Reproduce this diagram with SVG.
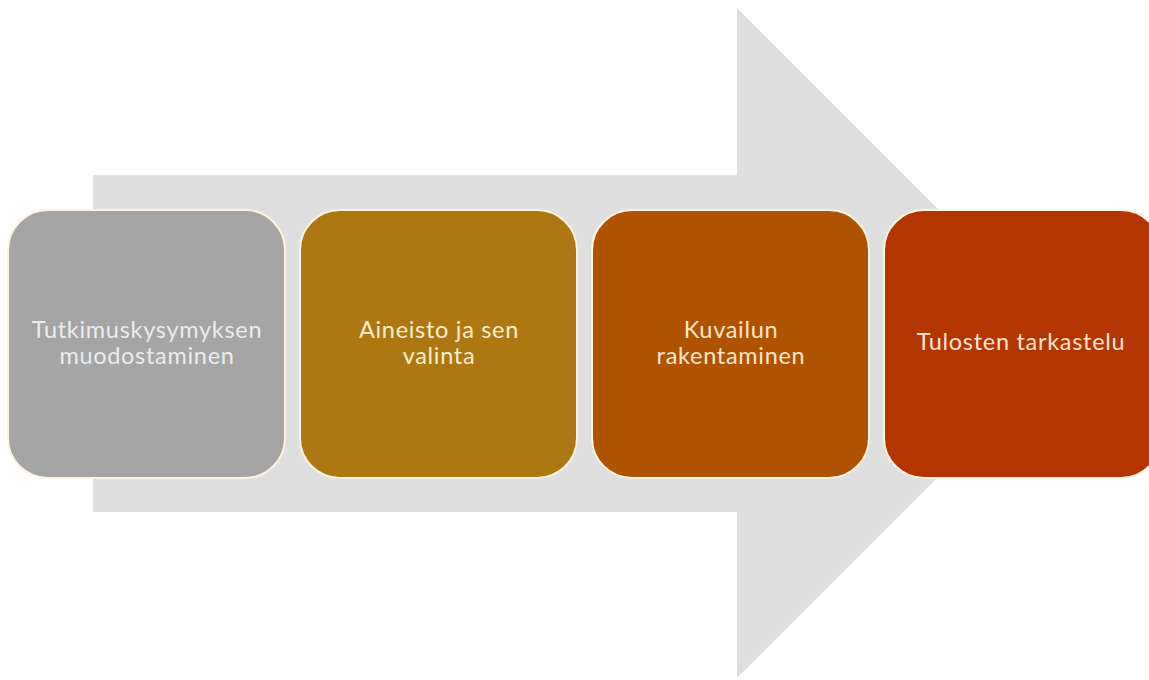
<svg xmlns="http://www.w3.org/2000/svg" width="1149" height="680" viewBox="0 0 1149 680">
<style>
.box{stroke:#fdf3e0;stroke-width:2}
.lbl{font-family:Lato,"Liberation Sans",sans-serif;font-size:23.5px;letter-spacing:0.7px;text-anchor:middle}
</style>
<rect width="1149" height="680" fill="#ffffff"/>
<g id="arrow">
<polygon points="93,175 737,175 737,8 1072,343 737,678 737,512 93,512" fill="#dfdfdf"/>
</g>
<g id="connectors"></g>
<g id="node1">
<rect class="box" x="8" y="210" width="277" height="268" rx="40" fill="#a5a5a5"/>
<text class="lbl" x="147" y="338" fill="#ececec">Tutkimuskysymyksen</text>
<text class="lbl" x="147" y="364" fill="#ececec">muodostaminen</text>
</g>
<g id="node2">
<rect class="box" x="300" y="210" width="277" height="268" rx="40" fill="#ad7811"/>
<text class="lbl" x="439" y="338" fill="#ffeecc">Aineisto ja sen</text>
<text class="lbl" x="439" y="364" fill="#ffeecc">valinta</text>
</g>
<g id="node3">
<rect class="box" x="592" y="210" width="277" height="268" rx="40" fill="#af5301"/>
<text class="lbl" x="731" y="338" fill="#ffe6cc">Kuvailun</text>
<text class="lbl" x="731" y="364" fill="#ffe6cc">rakentaminen</text>
</g>
<g id="node4">
<rect class="box" x="884" y="210" width="277" height="268" rx="40" fill="#b23502"/>
<text class="lbl" x="1021" y="350" fill="#ffe2d2">Tulosten tarkastelu</text>
</g>
</svg>
